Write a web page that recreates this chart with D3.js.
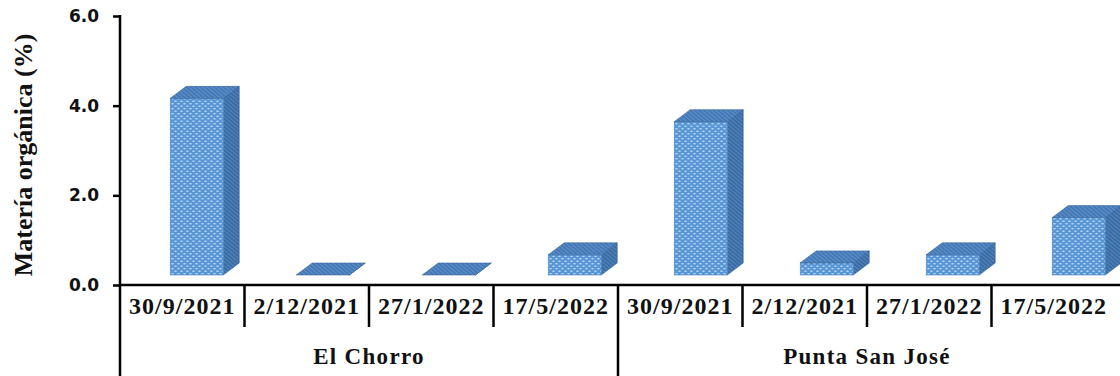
<!DOCTYPE html>
<html>
<head>
<meta charset="utf-8">
<script src="https://cdn.jsdelivr.net/npm/d3@7/dist/d3.min.js"></script>
<style>
  html, body { margin: 0; padding: 0; background: #fff; }
  svg { display: block; }
</style>
</head>
<body>
<svg id="chart" width="1120" height="376"></svg>
<script>
// ---- data ----
const dates = ["30/9/2021", "2/12/2021", "27/1/2022", "17/5/2022"];
const sites = ["El Chorro", "Punta San José"];
const elChorro = [3.94, 0.0, 0.0, 0.45];
const puntaSanJose = [3.42, 0.27, 0.45, 1.28];
const yTicks = [0, 2, 4, 6];
const yTitle = "Matería orgánica (%)";

const seriesBySite = [elChorro, puntaSanJose];
const rows = [];
sites.forEach((s, si) => dates.forEach((d, di) => rows.push({ site: s, date: d, key: s + "|" + d, value: seriesBySite[si][di] })));

const svg = d3.select("#chart");
const W = 1120, H = 376;
const mLeft = 120, mRight = 1116, mTop = 16, mBottom = 285;

const x = d3.scaleBand().domain(rows.map(r => r.key)).range([mLeft, mRight]).paddingInner(0).paddingOuter(0);
const y = d3.scaleLinear().domain([0, 6]).range([mBottom, mTop]);

// ---- patterns ----
const defs = svg.append("defs");
const pd = defs.append("pattern").attr("id", "dots").attr("patternUnits", "userSpaceOnUse")
  .attr("width", 6).attr("height", 5);
pd.append("rect").attr("width", 6).attr("height", 5).attr("fill", "#5896d5");
pd.append("ellipse").attr("cx", 1.5).attr("cy", 1.2).attr("rx", 1.4).attr("ry", 0.8).attr("fill", "#b8d8f4");
pd.append("ellipse").attr("cx", 4.5).attr("cy", 3.7).attr("rx", 1.4).attr("ry", 0.8).attr("fill", "#b8d8f4");

function hatch(id, base, line) {
  const p = defs.append("pattern").attr("id", id).attr("patternUnits", "userSpaceOnUse")
    .attr("width", 3).attr("height", 3).attr("patternTransform", "rotate(-50)");
  p.append("rect").attr("width", 3).attr("height", 3).attr("fill", base);
  p.append("line").attr("x1", 0).attr("y1", 0).attr("x2", 0).attr("y2", 3)
    .attr("stroke", line).attr("stroke-width", 1.1);
}
hatch("side", "#3a6ba3", "#6a9acd");
hatch("topf", "#4478b6", "#78a6d6");

// ---- bars (3D look) ----
const frontW = 53, dx = 16, dy = -12, floorOff = 10;
const bars = svg.append("g");
rows.forEach(r => {
  const c = x(r.key) + x.bandwidth() / 2;
  const x0 = c - 12 + (c - 182) * 0.012;
  const x1 = x0 + frontW;
  const yb = y(0) - floorOff;
  const yt = y(r.value) - floorOff;
  const g = bars.append("g");
  g.append("polygon")
    .attr("points", [[x1, yb], [x1 + dx, yb + dy], [x1 + dx, yt + dy], [x1, yt]].map(p => p.join(",")).join(" "))
    .attr("fill", "url(#side)").attr("stroke", "#35649a").attr("stroke-width", 0.6);
  if (yb - yt > 0.5) {
    g.append("rect").attr("x", x0).attr("y", yt).attr("width", frontW).attr("height", yb - yt)
      .attr("fill", "url(#dots)").attr("stroke", "#4a86c4").attr("stroke-width", 0.6);
  }
  g.append("polygon")
    .attr("points", [[x0, yt], [x0 + dx, yt + dy], [x1 + dx, yt + dy], [x1, yt]].map(p => p.join(",")).join(" "))
    .attr("fill", "url(#topf)").attr("stroke", "#35649a").attr("stroke-width", 0.6);
});

// ---- y axis ----
const yAxis = d3.axisLeft(y).tickValues(yTicks).tickFormat(d3.format(".1f")).tickSize(7).tickSizeOuter(0).tickPadding(14);
const ga = svg.append("g").attr("transform", `translate(${mLeft},0)`).call(yAxis);
ga.select(".domain").remove();
ga.selectAll(".tick line").attr("stroke", "#000").attr("stroke-width", 2.5);
ga.selectAll(".tick text")
  .attr("font-family", "'DejaVu Sans', sans-serif").attr("font-weight", "bold")
  .attr("font-size", 17).attr("fill", "#111");

const axisG = svg.append("g").attr("stroke", "#000").attr("stroke-width", 2.5);
axisG.append("line").attr("x1", mLeft).attr("x2", mLeft).attr("y1", mTop - 1).attr("y2", H);
axisG.append("line").attr("x1", mLeft).attr("x2", W).attr("y1", mBottom).attr("y2", mBottom);

rows.forEach((r, i) => {
  if (i === 0) return;
  const xs = x(r.key);
  const groupBoundary = r.date === dates[0];
  axisG.append("line").attr("x1", xs).attr("x2", xs).attr("y1", mBottom).attr("y2", groupBoundary ? H : 327);
});

svg.append("g").selectAll("text").data(rows).join("text")
  .attr("x", d => x(d.key) + x.bandwidth() / 2)
  .attr("y", 314)
  .attr("text-anchor", "middle")
  .attr("font-family", "'Liberation Serif', 'Times New Roman', serif")
  .attr("font-weight", "bold").attr("font-size", 24).attr("letter-spacing", 1)
  .attr("fill", "#111")
  .text(d => d.date);

svg.append("g").selectAll("text").data(sites).join("text")
  .attr("x", s => {
    const ks = rows.filter(r => r.site === s).map(r => r.key);
    return (x(ks[0]) + x(ks[ks.length - 1]) + x.bandwidth()) / 2;
  })
  .attr("y", 364)
  .attr("text-anchor", "middle")
  .attr("font-family", "'Liberation Serif', 'Times New Roman', serif")
  .attr("font-weight", "bold").attr("font-size", 23).attr("letter-spacing", 1.3)
  .attr("fill", "#111")
  .text(s => s);

svg.append("text")
  .attr("transform", `translate(32,155) rotate(-90)`)
  .attr("text-anchor", "middle")
  .attr("font-family", "'Liberation Serif', 'Times New Roman', serif")
  .attr("font-weight", "bold").attr("font-size", 26)
  .attr("fill", "#111")
  .text(yTitle);
</script>
</body>
</html>
